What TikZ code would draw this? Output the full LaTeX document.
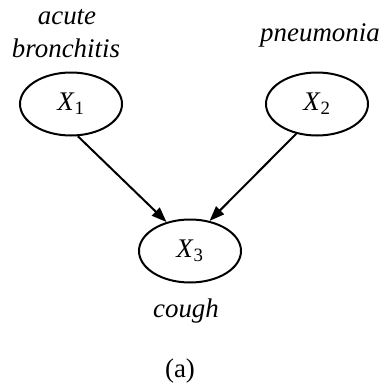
\documentclass[tikz,border=0pt]{standalone}
\usepackage{fontspec}
\setmainfont{Liberation Serif}
\usetikzlibrary{arrows.meta,shapes.geometric}
\begin{document}
\begin{tikzpicture}[x=1bp,y=-1bp,
  var/.style={draw,ellipse,line width=2bp,minimum width=102bp,minimum height=63bp,inner sep=0pt,
    font=\fontsize{27}{32}\selectfont},
  lbl/.style={anchor=base,inner sep=0pt,font=\fontsize{27}{32}\selectfont\itshape},
  captext/.style={anchor=base,inner sep=0pt,font=\fontsize{27}{32}\selectfont},
  arr/.style={line width=2bp,-{Triangle[length=15bp,width=11bp]}}]
\useasboundingbox (0,0) rectangle (384,390);
\node[var] (x1) at (71,104) {\textit{X}\textsubscript{1}};
\node[var] (x2) at (317,104) {\textit{X}\textsubscript{2}};
\node[var] (x3) at (190,251) {\textit{X}\textsubscript{3}};
\node[lbl] (l1a) at (67,24) {acute};
\node[lbl] (l1b) at (66,57) {bronchitis};
\node[lbl] (l2) at (320,41) {pneumonia};
\node[lbl] (l3) at (186,317) {cough};
\node[captext] (capa) at (180,377) {(a)};
\draw[arr] (x1.-78) -- (x3.129);
\draw[arr] (x2.-125) -- (x3.57);
\end{tikzpicture}
\end{document}
